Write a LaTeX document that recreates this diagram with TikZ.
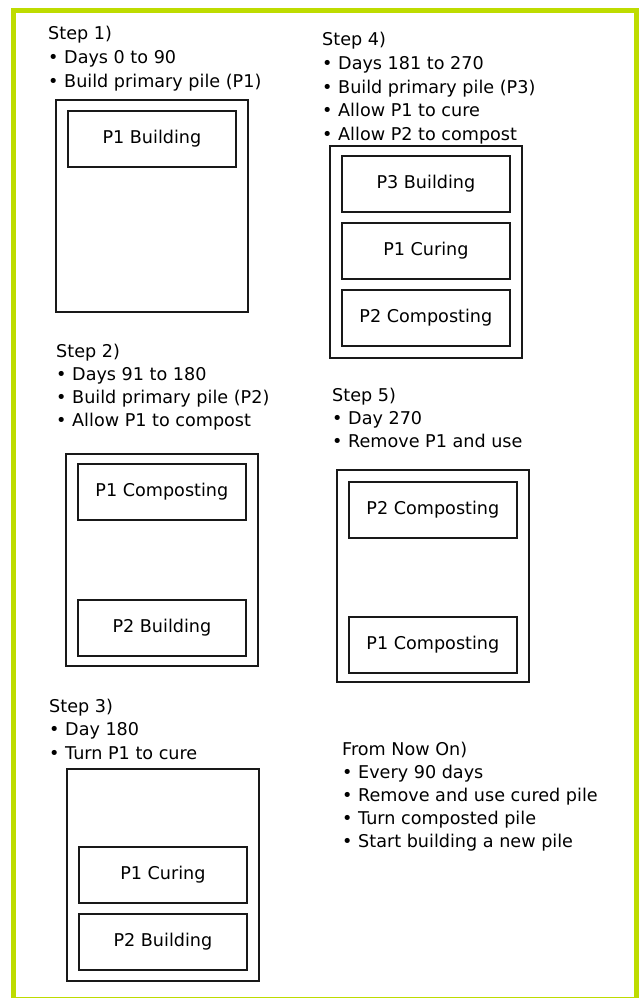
\documentclass[tikz,border=0pt]{standalone}
\usepackage{fontspec}
\setmainfont{DejaVu Sans}
\definecolor{framegreen}{RGB}{190,220,0}
\definecolor{linegray}{RGB}{25,25,25}
\begin{document}
\begin{tikzpicture}[x=1pt,y=-1pt,
  txt/.style={anchor=base west,inner sep=0pt,font=\fontsize{17.6}{21}\selectfont,text=black},
  outerbox/.style={draw=linegray,line width=1.8pt,minimum width=192pt,minimum height=212pt,inner sep=0pt,anchor=north west},
  innerbox/.style={draw=linegray,line width=1.8pt,minimum width=168pt,minimum height=56pt,inner sep=0pt,anchor=north west,font=\fontsize{17.6}{21}\selectfont,text=black},
]
\newcommand{\bul}[1]{\makebox[16pt][l]{•}#1}
\useasboundingbox (0,0) rectangle (639,998);
\fill[white] (0,0) rectangle (639,998);
% green frame
\fill[framegreen] (11,8) rectangle (16,998);
\fill[framegreen] (634,8) rectangle (639,998);
\fill[framegreen] (11,8) rectangle (639,13);
\fill[framegreen] (11,997) rectangle (639,998);

% Step 1
\node[txt] (s1t) at (48,40) {Step 1)};
\node[txt] (s1a) at (48,63.5) {\bul{Days 0 to 90}};
\node[txt] (s1b) at (48,87) {\bul{Build primary pile (P1)}};
\node[outerbox] (b1) at (55,99) {};
\node[innerbox] (b1a) at (67,110) {P1 Building};

% Step 4
\node[txt] (s4t) at (322,46) {Step 4)};
\node[txt] (s4a) at (322,69.5) {\bul{Days 181 to 270}};
\node[txt] (s4b) at (322,93) {\bul{Build primary pile (P3)}};
\node[txt] (s4c) at (322,116.5) {\bul{Allow P1 to cure}};
\node[txt] (s4d) at (322,140) {\bul{Allow P2 to compost}};
\node[outerbox] (b4) at (329,145) {};
\node[innerbox] (b4a) at (341,155) {P3 Building};
\node[innerbox] (b4b) at (341,222) {P1 Curing};
\node[innerbox] (b4c) at (341,289) {P2 Composting};

% Step 2
\node[txt] (s2t) at (56,357) {Step 2)};
\node[txt] (s2a) at (56,380) {\bul{Days 91 to 180}};
\node[txt] (s2b) at (56,403) {\bul{Build primary pile (P2)}};
\node[txt] (s2c) at (56,426) {\bul{Allow P1 to compost}};
\node[outerbox] (b2) at (65,453) {};
\node[innerbox] (b2a) at (77,463) {P1 Composting};
\node[innerbox] (b2b) at (77,599) {P2 Building};

% Step 5
\node[txt] (s5t) at (332,401) {Step 5)};
\node[txt] (s5a) at (332,424) {\bul{Day 270}};
\node[txt] (s5b) at (332,447) {\bul{Remove P1 and use}};
\node[outerbox] (b5) at (336,469) {};
\node[innerbox] (b5a) at (348,481) {P2 Composting};
\node[innerbox] (b5b) at (348,616) {P1 Composting};

% Step 3
\node[txt] (s3t) at (49,712) {Step 3)};
\node[txt] (s3a) at (49,735.5) {\bul{Day 180}};
\node[txt] (s3b) at (49,759) {\bul{Turn P1 to cure}};
\node[outerbox] (b3) at (66,768) {};
\node[innerbox] (b3a) at (78,846) {P1 Curing};
\node[innerbox] (b3b) at (78,913) {P2 Building};

% From now on
\node[txt] (ft) at (342,755) {From Now On)};
\node[txt] (fa) at (342,778) {\bul{Every 90 days}};
\node[txt] (fb) at (342,801) {\bul{Remove and use cured pile}};
\node[txt] (fc) at (342,824) {\bul{Turn composted pile}};
\node[txt] (fd) at (342,847) {\bul{Start building a new pile}};
\end{tikzpicture}
\end{document}
